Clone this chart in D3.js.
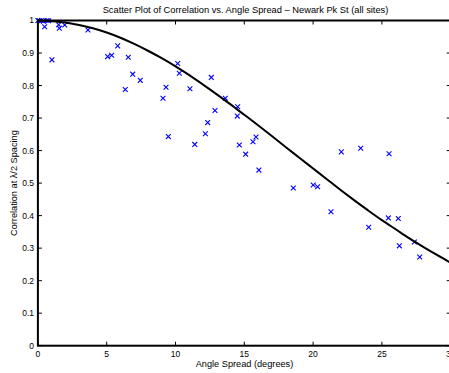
<!DOCTYPE html>
<html>
<head>
<meta charset="utf-8">
<script src="https://cdn.jsdelivr.net/npm/d3@7"></script>
<style>
  html, body { margin: 0; padding: 0; background: #fff; }
  svg { display: block; font-family: "Liberation Sans", Arial, Helvetica, sans-serif; }
</style>
</head>
<body>
<div id="chart"></div>
<script>
// measured points: angle spread (deg) and correlation at lambda/2
const spreadDeg = [
  0.0, 0.1, 0.25, 0.4, 0.49, 0.66, 0.78,
  1.02, 1.51, 1.56, 1.95, 3.64,
  5.07, 5.36, 5.80, 6.57, 6.89, 7.44, 6.35,
  10.16, 10.28, 9.31, 9.09, 11.05,
  12.60, 13.62, 14.52, 14.49, 12.87, 12.34, 12.17, 9.48, 11.40, 14.64, 15.10, 15.85, 15.63, 16.06,
  22.05, 23.46, 18.56, 20.01, 20.33, 21.30,
  25.52, 25.47, 26.19, 24.04, 26.27, 27.36, 27.75
];
const correlation = [
  1.0, 0.999, 1.0, 0.998, 0.981, 1.0, 0.999,
  0.879, 0.987, 0.976, 0.986, 0.971,
  0.889, 0.893, 0.922, 0.887, 0.835, 0.816, 0.788,
  0.868, 0.838, 0.795, 0.761, 0.790,
  0.825, 0.761, 0.735, 0.706, 0.723, 0.686, 0.652, 0.643, 0.619, 0.617, 0.589, 0.642, 0.627, 0.540,
  0.596, 0.607, 0.485, 0.494, 0.489, 0.412,
  0.590, 0.393, 0.391, 0.364, 0.307, 0.319, 0.273
];

// theoretical curve
const curveX = [0, 1, 2, 3, 4, 5, 6, 7, 8, 9, 10, 11, 12, 13, 14, 15,
  16, 17, 18, 19, 20, 21, 22, 23, 24, 25, 26, 27, 28, 29, 30];
const curveY = [1.000, 0.998, 0.994, 0.986, 0.976, 0.963, 0.947, 0.928, 0.907, 0.884,
  0.859, 0.832, 0.803, 0.773, 0.742, 0.710, 0.678, 0.645, 0.611, 0.578,
  0.545, 0.512, 0.479, 0.447, 0.416, 0.386, 0.358, 0.330, 0.304, 0.279, 0.255];

const xTicks = [0, 5, 10, 15, 20, 25, 30];
const yTicks = [0, 0.1, 0.2, 0.3, 0.4, 0.5, 0.6, 0.7, 0.8, 0.9, 1];

const titleText = 'Scatter Plot of Correlation vs. Angle Spread \u2013 Newark Pk St (all sites)';
const xLabel = 'Angle Spread (degrees)';
const yLabel = 'Correlation at \u03bb/2 Spacing';

const width = 449;
const height = 373;
const plot = { left: 37.9, right: 450.7, top: 20.5, bottom: 345.7 };

const x = d3.scaleLinear().domain([0, 30]).range([plot.left, plot.right]);
const y = d3.scaleLinear().domain([0, 1]).range([plot.bottom, plot.top]);

const svg = d3.select('#chart')
  .append('svg')
  .attr('width', width)
  .attr('height', height);

// ticks (inward, on all four sides)
const tickLen = 4;
const ticks = svg.append('g').attr('stroke', '#000').attr('stroke-width', 1);

xTicks.forEach(t => {
  ticks.append('line')
    .attr('x1', x(t)).attr('x2', x(t))
    .attr('y1', plot.bottom).attr('y2', plot.bottom - tickLen);
  ticks.append('line')
    .attr('x1', x(t)).attr('x2', x(t))
    .attr('y1', plot.top).attr('y2', plot.top + tickLen);
});
yTicks.forEach(t => {
  ticks.append('line')
    .attr('x1', plot.left).attr('x2', plot.left + tickLen)
    .attr('y1', y(t)).attr('y2', y(t));
  ticks.append('line')
    .attr('x1', plot.right).attr('x2', plot.right - tickLen)
    .attr('y1', y(t)).attr('y2', y(t));
});

// tick labels
svg.append('g')
  .selectAll('text')
  .data(xTicks)
  .enter()
  .append('text')
  .attr('x', d => x(d))
  .attr('y', 357)
  .attr('text-anchor', 'middle')
  .attr('font-size', '8.5px')
  .attr('fill', '#000')
  .text(d => d);

svg.append('g')
  .selectAll('text')
  .data(yTicks)
  .enter()
  .append('text')
  .attr('x', 34)
  .attr('y', d => y(d))
  .attr('dy', '0.35em')
  .attr('text-anchor', 'end')
  .attr('font-size', '8.5px')
  .attr('fill', '#000')
  .text(d => d);

// scatter markers 'x'
const r = 2.4;
const marks = svg.append('g')
  .attr('stroke', '#0000ff')
  .attr('stroke-width', 1.1)
  .attr('fill', 'none');

spreadDeg.forEach((d, i) => {
  const cx = x(d), cy = y(correlation[i]);
  marks.append('path')
    .attr('d', `M${cx - r},${cy - r}L${cx + r},${cy + r}M${cx - r},${cy + r}L${cx + r},${cy - r}`);
});

// theoretical curve
const line = d3.line()
  .x((d, i) => x(curveX[i]))
  .y(d => y(d))
  .curve(d3.curveMonotoneX);

svg.append('path')
  .datum(curveY)
  .attr('d', line)
  .attr('fill', 'none')
  .attr('stroke', '#000')
  .attr('stroke-width', 2);

// axes box
svg.append('rect')
  .attr('x', plot.left)
  .attr('y', plot.top)
  .attr('width', plot.right - plot.left)
  .attr('height', plot.bottom - plot.top)
  .attr('fill', 'none')
  .attr('stroke', '#000')
  .attr('stroke-width', 2);

// labels
svg.append('text')
  .attr('x', 245.5)
  .attr('y', 13)
  .attr('text-anchor', 'middle')
  .attr('font-size', '9.3px')
  .attr('fill', '#000')
  .text(titleText);

svg.append('text')
  .attr('x', 244.5)
  .attr('y', 367)
  .attr('text-anchor', 'middle')
  .attr('font-size', '9.2px')
  .attr('fill', '#000')
  .text(xLabel);

svg.append('text')
  .attr('transform', `translate(17, ${(plot.top + plot.bottom) / 2}) rotate(-90)`)
  .attr('text-anchor', 'middle')
  .attr('font-size', '9.2px')
  .attr('fill', '#000')
  .text(yLabel);
</script>
</body>
</html>
